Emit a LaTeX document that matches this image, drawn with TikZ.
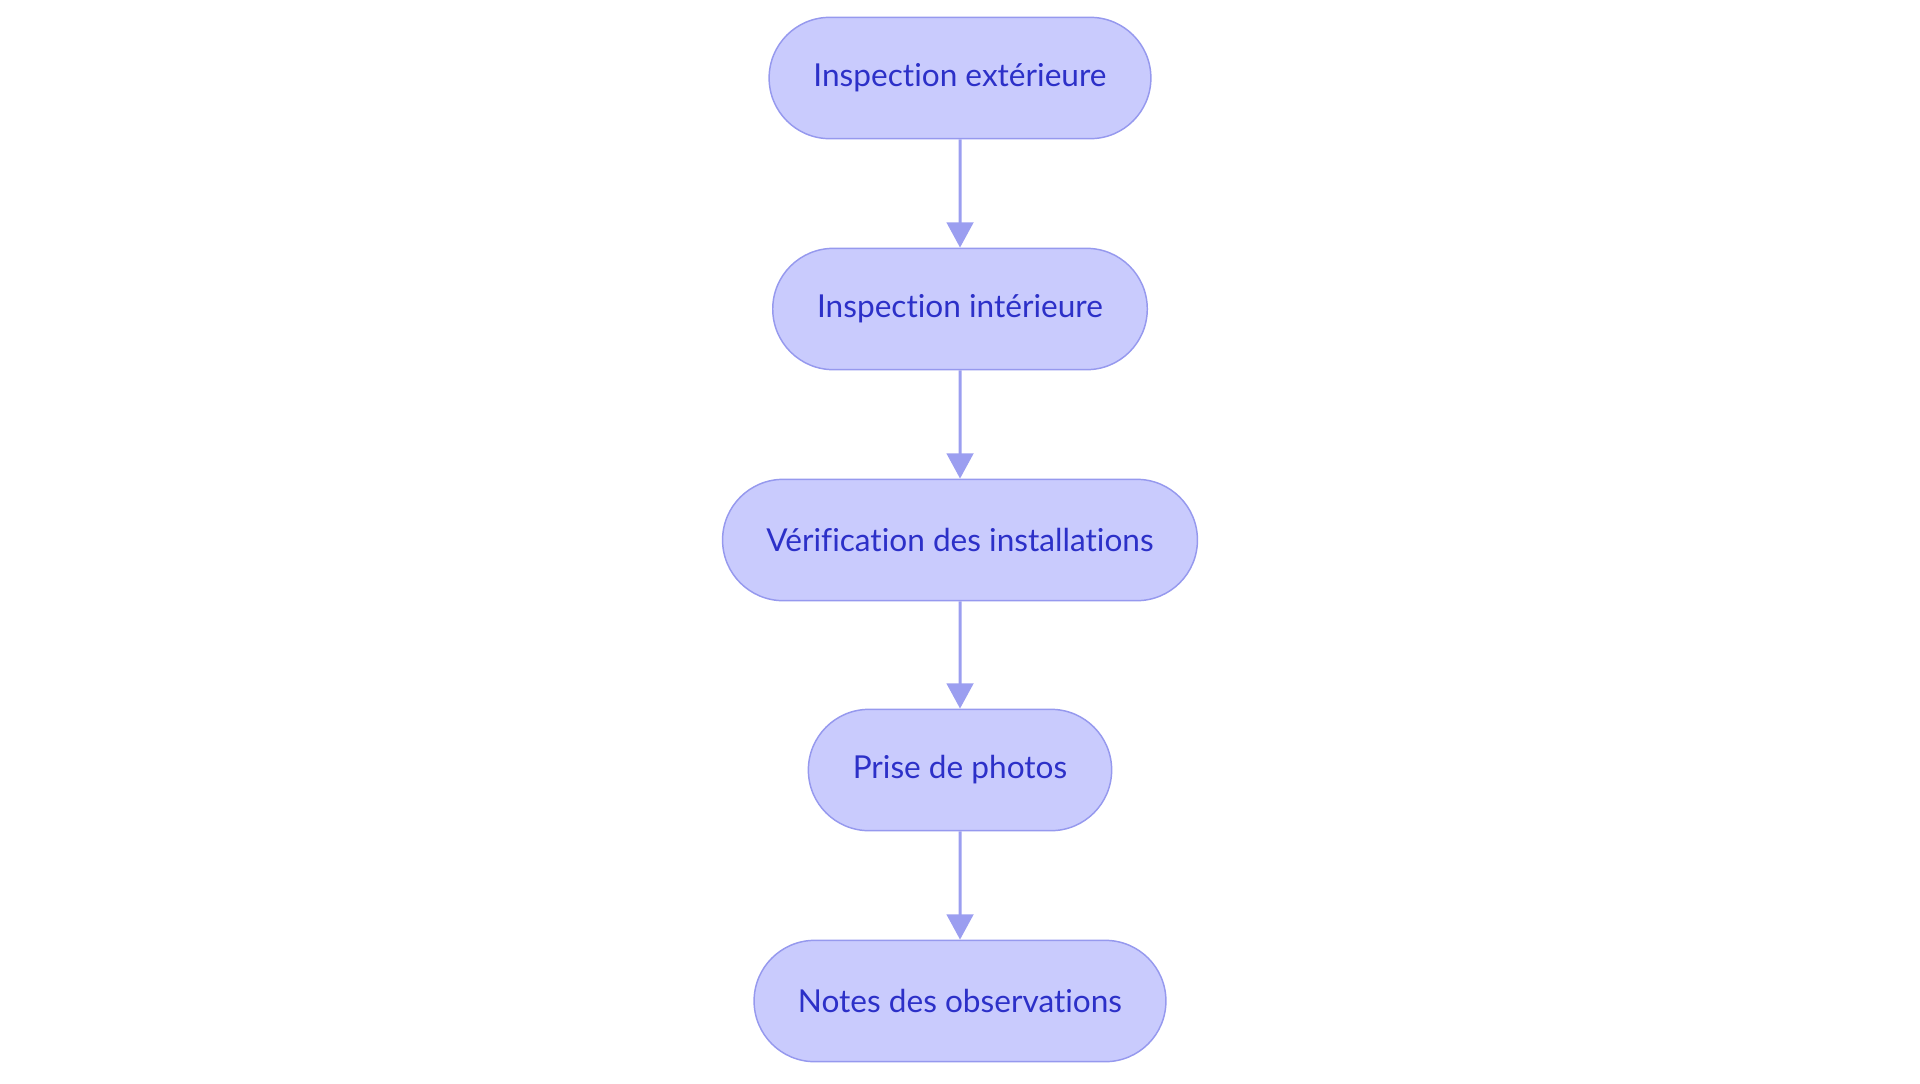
\documentclass[tikz,border=0pt]{standalone}
\usepackage{fontspec}
\setmainfont{Lato}[Ligatures=NoCommon]
\usetikzlibrary{shapes.misc,arrows.meta}

\definecolor{stepfill}{RGB}{201,203,253}
\definecolor{stepline}{RGB}{150,153,238}
\definecolor{steptext}{RGB}{44,48,200}
\definecolor{arrowcol}{RGB}{155,158,240}

\tikzset{
  stepbox/.style={rounded rectangle, draw=stepline, fill=stepfill, line width=1.1pt,
    text=steptext, font=\fontsize{23.7}{28}\selectfont, minimum height=91pt, inner xsep=32pt},
  flow/.style={draw=arrowcol, line width=2.25pt, -{Triangle[length=19pt,width=20pt]}}
}

\begin{document}
\begin{tikzpicture}[x=0.75pt,y=0.75pt]
		\useasboundingbox (0,0) rectangle (1920,-1083);
		\node[stepbox] (E) at (960,-78) {Inspection extérieure};
		\node[stepbox] (I) at (960,-309) {Inspection intérieure};
		\node[stepbox] (V) at (960,-540) {Vérification des installations};
		\node[stepbox] (P) at (960,-770) {Prise de photos};
		\node[stepbox] (N) at (960,-1001) {Notes des observations};
		\draw[flow] (E)--(I);
		\draw[flow] (I)--(V);
		\draw[flow] (V)--(P);
		\draw[flow] (P)--(N);
\end{tikzpicture}
\end{document}
